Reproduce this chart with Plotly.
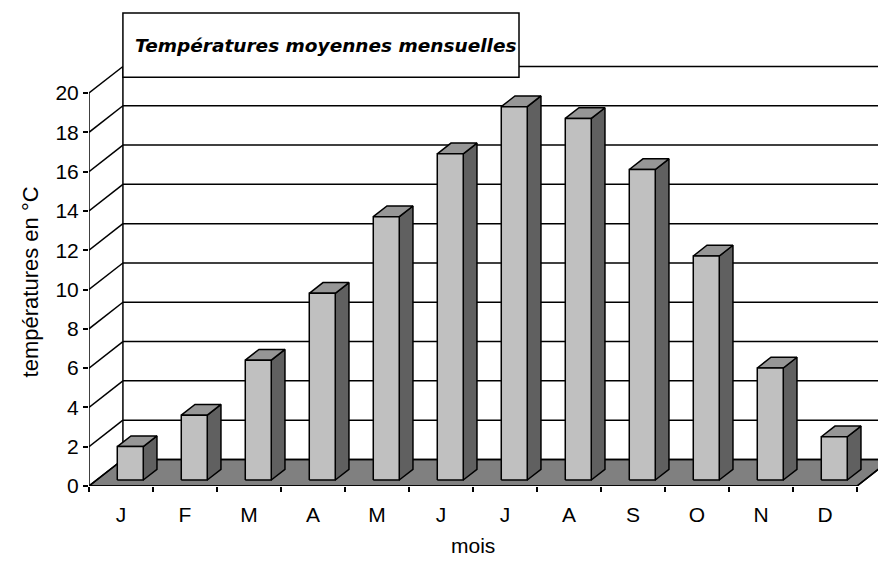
import plotly.graph_objects as go

# Monthly mean temperatures (°C)
months = ["J", "F", "M", "A", "M", "J", "J", "A", "S", "O", "N", "D"]
temperatures = [1.7, 3.3, 6.1, 9.5, 13.4, 16.6, 19.0, 18.4, 15.8, 11.4, 5.7, 2.2]
y_ticks = list(range(0, 21, 2))

# Oblique projection of the depth axis, in data units
DX, DY = 0.53, 1.35
# Bar depth span (fraction of the full depth) and bar width (category units)
D0, D1 = 0.226, 0.63
BAR_W = 0.406
BAR_SHIFT = 0.025

n = len(months)
x_max = 789 / 64.0
y_max = 486 / 19.65

FRONT = "#C0C0C0"
TOP = "#969696"
SIDE = "#606060"
FLOOR = "#808080"
LW = 1.5

fig = go.Figure()


def poly(xs, ys, fill, width=LW):
    fig.add_trace(go.Scatter(
        x=xs, y=ys, mode="lines", fill="toself", fillcolor=fill,
        line=dict(color="black", width=width), hoverinfo="skip", showlegend=False,
    ))


def lines(xs, ys, width=LW):
    fig.add_trace(go.Scatter(
        x=xs, y=ys, mode="lines", line=dict(color="black", width=width),
        hoverinfo="skip", showlegend=False, connectgaps=False,
    ))


# Floor
poly([0, n, n + DX, DX, 0], [0, 0, DY, DY, 0], FLOOR)

# Back-wall gridlines and side-wall diagonals
gx, gy = [], []
for v in y_ticks:
    gx += [DX, n + DX, None, 0, DX, None]
    gy += [v + DY, v + DY, None, v, v + DY, None]
gx += [DX, DX, None]
gy += [DY, y_ticks[-1] + DY, None]
lines(gx, gy)

# 3D columns
fx, fy, tx, ty, sx, sy = [], [], [], [], [], []
ox0, oy0 = D0 * DX, D0 * DY
ox1, oy1 = D1 * DX, D1 * DY
for i, v in enumerate(temperatures):
    c = i + 0.5 + BAR_SHIFT
    xl, xr = c - BAR_W / 2, c + BAR_W / 2
    fx += [xl + ox0, xr + ox0, xr + ox0, xl + ox0, xl + ox0, None]
    fy += [oy0, oy0, v + oy0, v + oy0, oy0, None]
    tx += [xl + ox0, xr + ox0, xr + ox1, xl + ox1, xl + ox0, None]
    ty += [v + oy0, v + oy0, v + oy1, v + oy1, v + oy0, None]
    sx += [xr + ox0, xr + ox1, xr + ox1, xr + ox0, xr + ox0, None]
    sy += [oy0, oy1, v + oy1, v + oy0, oy0, None]
poly(sx, sy, SIDE)
poly(tx, ty, TOP)
poly(fx, fy, FRONT)

# Front axis lines
lines([0, 0, None, 0, n, n + DX], [y_ticks[-1], 0, None, 0, 0, DY])

font = dict(family="Liberation Sans, Arial, sans-serif", size=21, color="black")
title_font = dict(family="Liberation Sans, Arial, sans-serif", size=22, color="black")

fig.update_layout(
    width=878, height=563,
    margin=dict(l=89, r=0, t=0, b=77),
    paper_bgcolor="white", plot_bgcolor="white",
    font=font,
    xaxis=dict(
        range=[0, x_max], showgrid=False, zeroline=False, showline=False,
        tickmode="array", tickvals=[i + 0.5 for i in range(n)], ticktext=months,
        ticks="outside", ticklen=10, tickcolor="rgba(0,0,0,0)",
        minor=dict(tickmode="array", tickvals=list(range(n + 1)), ticks="outside",
                   ticklen=5, tickcolor="black", tickwidth=1.5, showgrid=False),
        tickfont=font, fixedrange=True,
    ),
    yaxis=dict(
        range=[0, y_max], showgrid=False, zeroline=False, showline=False,
        tickmode="array", tickvals=y_ticks, ticks="outside", ticklen=5,
        tickcolor="black", tickwidth=1.5, tickfont=font, fixedrange=True,
    ),
    shapes=[dict(
        type="rect", xref="x", yref="y", layer="above",
        x0=DX, x1=(519 - 89) / 64.0, y0=20.8, y1=24.07,
        fillcolor="white", line=dict(color="black", width=LW),
    )],
    annotations=[
        dict(text="Températures moyennes mensuelles", xref="x", yref="y",
             x=(DX + (519 - 89) / 64.0) / 2 + 0.08, y=(20.8 + 24.07) / 2, showarrow=False,
             font=dict(family="DejaVu Sans", size=18.5, color="black",
                       weight="bold", style="italic")),
        dict(text="températures en °C", xref="paper", yref="paper",
             x=-0.0748, y=0.421, textangle=-90, showarrow=False,
             xanchor="center", yanchor="middle", font=title_font),
        dict(text="mois", xref="x", yref="paper", x=n / 2, y=-0.123,
             showarrow=False, xanchor="center", yanchor="middle", font=font),
    ],
)

fig.write_html("out.html")
